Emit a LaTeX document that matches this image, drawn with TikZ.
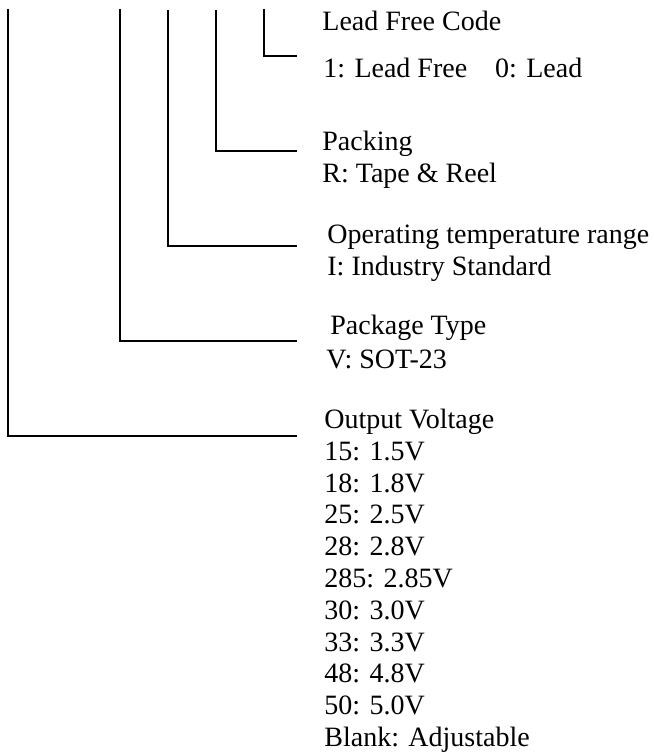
\documentclass[tikz,border=0pt]{standalone}
\usepackage{fontspec}
\setmainfont{Liberation Serif}

\begin{document}
\begin{tikzpicture}[x=0.5pt,y=-0.5pt,
  code/.style={anchor=base west,inner sep=0pt,font=\fontsize{14}{15.9}\selectfont,align=left},
  leader/.style={line width=1pt}]
        \useasboundingbox (0,0) rectangle (653,753);

        \coordinate (vouttop) at (8,9);
        \coordinate (pkgtop) at (120,9);
        \coordinate (optemptop) at (168,10);
        \coordinate (packtop) at (216,10);
        \coordinate (leadtop) at (264,9);

        \coordinate (leadend) at (297,56.5);
        \coordinate (packend) at (297,151);
        \coordinate (optempend) at (297,246);
        \coordinate (pkgend) at (297,340.5);
        \coordinate (voutend) at (297,435.5);

        \node[code] (lead) at (322,30.5) {Lead Free Code};
        \node[code] (leadval) at (323,78) {1: Lead Free\hspace{14pt}0: Lead};
        \node[code] (pack) at (322,151) {Packing};
        \node[code] (packval) at (322,183) {R: Tape \& Reel};
        \node[code] (optemp) at (327,244) {Operating temperature range};
        \node[code] (optempval) at (327,276) {I: Industry Standard};
        \node[code] (pkg) at (330,334) {Package Type};
        \node[code] (pkgval) at (326,368) {V: SOT-23};
        \node[code] (vout) at (324,746.5) {Output Voltage\\15: 1.5V\\18: 1.8V\\25: 2.5V\\28: 2.8V\\285: 2.85V\\30: 3.0V\\33: 3.3V\\48: 4.8V\\50: 5.0V\\Blank: Adjustable};

        \draw[leader] (leadtop) |- (leadend);
        \draw[leader] (packtop) |- (packend);
        \draw[leader] (optemptop) |- (optempend);
        \draw[leader] (pkgtop) |- (pkgend);
        \draw[leader] (vouttop) |- (voutend);
      \end{tikzpicture}
\end{document}
